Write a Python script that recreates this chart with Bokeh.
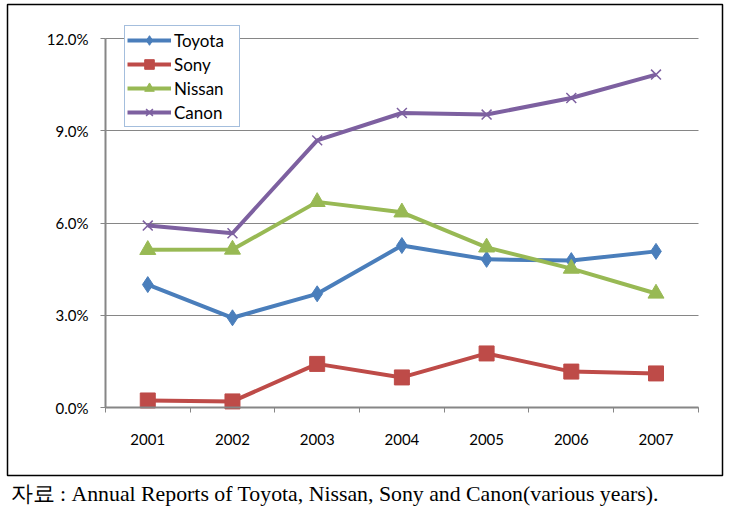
from bokeh.plotting import figure
from bokeh.models import Range1d, FixedTicker, PrintfTickFormatter, Legend, LegendItem, Title
from bokeh.embed import file_html
from bokeh.resources import INLINE

years = ["2001", "2002", "2003", "2004", "2005", "2006", "2007"]
toyota = [4.00, 2.92, 3.70, 5.27, 4.82, 4.78, 5.08]
sony = [0.23, 0.20, 1.42, 0.98, 1.76, 1.17, 1.11]
nissan = [5.13, 5.14, 6.69, 6.35, 5.21, 4.52, 3.71]
canon = [5.92, 5.67, 8.69, 9.58, 9.53, 10.07, 10.83]
y_ticks = [0, 3, 6, 9, 12]
caption = "자료 : Annual Reports of Toyota, Nissan, Sony and Canon(various years)."

x = list(range(1, len(years) + 1))
GRAY = "#868686"
lo, hi = 0.5, len(years) + 0.5

p = figure(width=718, height=506, x_range=Range1d(-0.656, 7.785),
           y_range=Range1d(-2.21, 13.11),
           output_backend="svg", toolbar_location=None,
           min_border_left=1, min_border_right=2, min_border_top=1, min_border_bottom=34)
p.styles = {"margin-left": "6px", "margin-top": "3px"}
p.outline_line_color = "black"
p.outline_line_width = 1.5
p.xgrid.visible = False
p.ygrid.grid_line_color = GRAY
p.ygrid.grid_line_width = 1
p.ygrid.cross_bounds = (lo, hi)

p.yaxis.fixed_location = lo
p.yaxis.bounds = (y_ticks[0], y_ticks[-1])
p.yaxis.ticker = FixedTicker(ticks=y_ticks)
p.yaxis.formatter = PrintfTickFormatter(format="%.1f%%")
p.yaxis.axis_line_color = GRAY
p.yaxis.axis_line_width = 2
p.yaxis.major_tick_line_color = GRAY
p.yaxis.major_tick_out = 5
p.yaxis.major_tick_in = 0
p.yaxis.minor_tick_line_color = None
p.yaxis.major_label_standoff = 12
p.yaxis.major_label_text_font = "Lato"
p.yaxis.major_label_text_font_size = "15px"
p.yaxis.major_label_text_color = "black"

p.xaxis.fixed_location = y_ticks[0]
p.xaxis.bounds = (lo, hi)
p.xaxis.ticker = FixedTicker(ticks=x, minor_ticks=[i + 0.5 for i in range(len(years) + 1)])
p.xaxis.major_label_overrides = {i: yr for i, yr in zip(x, years)}
p.xaxis.axis_line_color = GRAY
p.xaxis.axis_line_width = 2
p.xaxis.major_tick_line_color = None
p.xaxis.major_tick_out = 0
p.xaxis.major_tick_in = 0
p.xaxis.minor_tick_line_color = GRAY
p.xaxis.minor_tick_out = 5
p.xaxis.minor_tick_in = 0
p.xaxis.major_label_standoff = 21
p.xaxis.major_label_text_font = "Lato"
p.xaxis.major_label_text_font_size = "15px"
p.xaxis.major_label_text_color = "black"

series = [
    ("Toyota", toyota, "#4A7EBB", "diamond", 16),
    ("Sony", sony, "#BE4B48", "square", 15),
    ("Nissan", nissan, "#98B954", "triangle", 16),
    ("Canon", canon, "#7D60A0", "x", 14),
]
items = []
for name, vals, col, mk, sz in series:
    ln = p.line(x, vals, line_color=col, line_width=4)
    if mk == "x":
        sc = p.scatter(x, vals, marker=mk, size=sz, line_color=col, line_width=1.5)
    else:
        sc = p.scatter(x, vals, marker=mk, size=sz, fill_color=col, line_color=col)
    items.append(LegendItem(label=name, renderers=[ln, sc]))

legend = Legend(items=items, location=(117, 348))
legend.border_line_color = "#4A7EBB"
legend.border_line_width = 1
legend.background_fill_color = "white"
legend.background_fill_alpha = 1
legend.padding = 2
legend.spacing = 0
legend.margin = 0
legend.glyph_width = 44
legend.glyph_height = 24
legend.label_height = 18
legend.label_width = 63
legend.label_standoff = 3
legend.label_text_font = "Lato"
legend.label_text_font_size = "17px"
legend.label_text_color = "black"
p.add_layout(legend, "center")

p.add_layout(Title(text=caption, align="left", offset=3, standoff=8,
                   text_font="Liberation Serif", text_font_size="21.8px",
                   text_font_style="normal", text_color="black"), "below")

open("out.html", "w").write(file_html(p, INLINE))
